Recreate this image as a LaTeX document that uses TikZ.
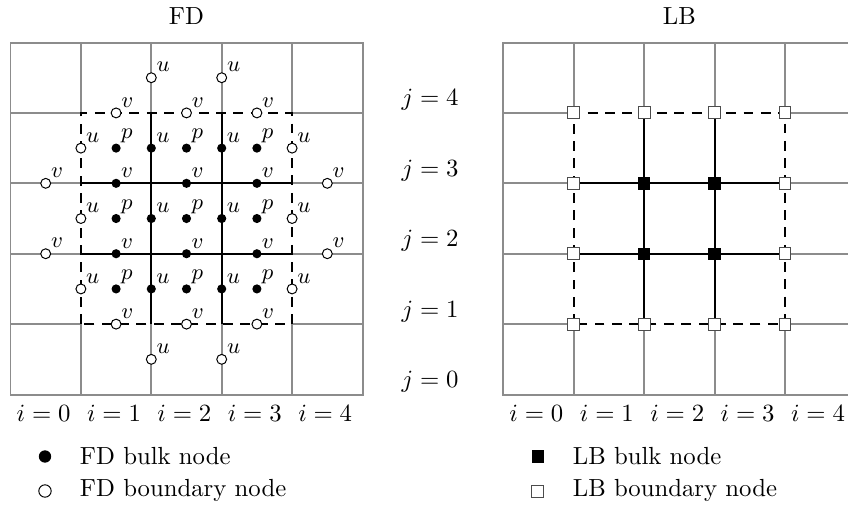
\documentclass[tikz,border=0pt]{standalone}
\begin{document}
\begin{tikzpicture}[
  gridline/.style={draw=black!45, line width=0.8pt},
  innerline/.style={draw=black, line width=0.8pt},
  bndline/.style={draw=black, line width=0.8pt, dash pattern=on 4pt off 3pt},
  fdbulk/.style={circle, fill=black, inner sep=0pt, minimum size=3.7pt},
  fdbnd/.style={circle, draw=black, line width=0.4pt, fill=white, inner sep=0pt, minimum size=4pt},
  lbbulk/.style={rectangle, fill=black, inner sep=0pt, minimum size=5pt},
  lbbnd/.style={rectangle, draw=black!70, line width=0.4pt, fill=white, inner sep=0pt, minimum size=4.8pt},
  lab/.style={font=\small, inner sep=0pt, anchor=base west, xshift=0.4pt, yshift=0.8pt},
  txt/.style={inner sep=0pt},
]
\useasboundingbox (-0.149,-1.598) rectangle (11.896,5.604);

% ---------- grids (FD at 0, LB at 7) ----------
\foreach \ox in {0,7} {
  \draw[gridline] (\ox,0) rectangle ++(5,5);
  \foreach \k in {1,2,3,4} {
    \draw[gridline] (\ox,\k) -- ++(1,0);
    \draw[gridline] (\ox+4,\k) -- ++(1,0);
    \draw[gridline] (\ox+\k,0) -- ++(0,1);
    \draw[gridline] (\ox+\k,4) -- ++(0,1);
  }
  \draw[bndline] (\ox+1,1) rectangle (\ox+4,4);
  \draw[innerline] (\ox+2,1) -- (\ox+2,4);
  \draw[innerline] (\ox+3,1) -- (\ox+3,4);
  \draw[innerline] (\ox+1,2) -- (\ox+4,2);
  \draw[innerline] (\ox+1,3) -- (\ox+4,3);
}

% ---------- titles ----------
\node[txt, anchor=base] (tFD) at (2.5,5.25) {FD};
\node[txt, anchor=base] (tLB) at (9.5,5.25) {LB};

% ---------- FD boundary nodes ----------
\foreach \x/\y/\n in {2/4.5/uT2, 3/4.5/uT3, 2/0.5/uB2, 3/0.5/uB3,
                      1/3.5/uL3, 1/2.5/uL2, 1/1.5/uL1,
                      4/3.5/uR3, 4/2.5/uR2, 4/1.5/uR1}
  \node[fdbnd, label={[lab]45:$u$}] (\n) at (\x,\y) {};
\foreach \x/\y/\n in {1.5/4/vT1, 2.5/4/vT2, 3.5/4/vT3,
                      1.5/1/vB1, 2.5/1/vB2, 3.5/1/vB3,
                      0.5/3/vL3, 0.5/2/vL2, 4.5/3/vR3, 4.5/2/vR2}
  \node[fdbnd, label={[lab]45:$v$}] (\n) at (\x,\y) {};

% ---------- FD bulk nodes ----------
\foreach \j in {1,2,3} {
  \foreach \i in {1,2,3}
    \node[fdbulk, label={[lab, yshift=1.5pt]45:$p$}] (p-\i-\j) at (\i+0.5,\j+0.5) {};
  \foreach \i in {2,3}
    \node[fdbulk, label={[lab]45:$u$}] (u-\i-\j) at (\i,\j+0.5) {};
}
\foreach \j in {2,3}
  \foreach \i in {1,2,3}
    \node[fdbulk, label={[lab]45:$v$}] (v-\i-\j) at (\i+0.5,\j) {};

% ---------- LB nodes ----------
\foreach \i in {1,2,3,4}
  \foreach \j in {1,2,3,4} {
    \ifnum\i>1 \ifnum\i<4 \ifnum\j>1 \ifnum\j<4
      \def\lbst{lbbulk}\else\def\lbst{lbbnd}\fi\else\def\lbst{lbbnd}\fi
      \else\def\lbst{lbbnd}\fi\else\def\lbst{lbbnd}\fi
    \node[\lbst] (lb-\i-\j) at (7+\i,\j) {};
  }

% ---------- index labels ----------
\foreach \k in {0,...,4} {
  \node[txt, anchor=base] (j\k) at (5.96,\k+0.1) {$j=\k$};
  \node[txt, anchor=base] (fi\k) at (\k+0.47,-0.386) {$i=\k$};
  \node[txt, anchor=base] (li\k) at (7.47+\k,-0.386) {$i=\k$};
}

% ---------- legend ----------
\node[circle, fill=black, inner sep=0pt, minimum size=5pt] (legFDb) at (0.49,-0.88) {};
\node[txt, anchor=base west] (legFDbt) at (0.98,-1.0) {FD bulk node};
\node[circle, draw=black, line width=0.4pt, fill=white, inner sep=0pt, minimum size=5pt] (legFDw) at (0.49,-1.37) {};
\node[txt, anchor=base west] (legFDwt) at (0.98,-1.45) {FD boundary node};

\node[rectangle, fill=black, inner sep=0pt, minimum size=4.9pt] (legLBb) at (7.49,-0.88) {};
\node[txt, anchor=base west] (legLBbt) at (7.98,-1.0) {LB bulk node};
\node[rectangle, draw=black!70, line width=0.4pt, fill=white, inner sep=0pt, minimum size=4.9pt] (legLBw) at (7.49,-1.38) {};
\node[txt, anchor=base west] (legLBwt) at (7.98,-1.45) {LB boundary node};
\end{tikzpicture}
\end{document}
